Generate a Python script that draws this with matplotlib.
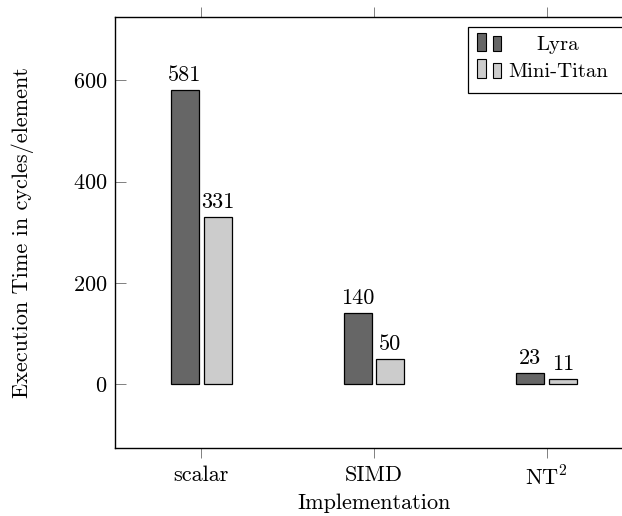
import matplotlib.pyplot as plt
from matplotlib.patches import Rectangle
import numpy as np

plt.rcParams['font.family'] = 'serif'
plt.rcParams['font.serif'] = ['cmr10']
plt.rcParams['mathtext.fontset'] = 'cm'
plt.rcParams['axes.formatter.use_mathtext'] = True
plt.rcParams['font.size'] = 16

# dados
implementacoes = ['scalar', 'SIMD', r'NT$^2$']
lyra = [581, 140, 23]
mini_titan = [331, 50, 11]
series = ['Lyra', 'Mini-Titan']
cores = ['#666666', '#cccccc']

W, H = 622, 516
fig = plt.figure(figsize=(W / 100, H / 100), dpi=100)
# eixo vai alem da borda direita da figura
ax_l, ax_t, ax_w, ax_h = 115, 17, 518, 431
ax = fig.add_axes([ax_l / W, 1 - (ax_t + ax_h) / H, ax_w / W, ax_h / H])

x = np.arange(len(implementacoes))
largura = 0.162
b1 = ax.bar(x - 0.095, lyra, largura, color=cores[0], edgecolor='black', lw=0.9)
b2 = ax.bar(x + 0.095, mini_titan, largura, color=cores[1], edgecolor='black', lw=0.9)
ax.bar_label(b1, padding=3.5)
ax.bar_label(b2, padding=3.5)

ax.set_xlim(-0.5, 2.5)
ax.set_ylim(-126, 725)
ax.set_xticks(x)
ax.set_xticklabels(implementacoes)
ax.set_yticks([0, 200, 400, 600])
ax.tick_params(axis='x', direction='out', top=True, length=7.5, color='0.5', width=0.7, pad=5)
ax.tick_params(axis='y', direction='in', right=True, length=8, color='0.5', width=0.7, pad=5.5)
ax.set_xlabel('Implementation', labelpad=3)
ax.set_ylabel('Execution Time in cycles/element', labelpad=28)

for s in ax.spines.values():
    s.set_linewidth(1.0)


# legenda desenhada a mao (pixels -> fracao do eixo)
def px(xp, yp):
    return (xp - ax_l) / ax_w, (ax_t + ax_h - yp) / ax_h


x0, y0 = px(468, 93)
x1, y1 = px(660, 27)
ax.add_patch(Rectangle((x0, y0), x1 - x0, y1 - y0, transform=ax.transAxes,
                       facecolor='white', edgecolor='black', lw=0.9, clip_on=False, zorder=5))
linhas = [(33, 36, 51, 45), (59, 63, 78, 72)]
for nome, cor, (ta, tb, base, yt) in zip(series, cores, linhas):
    for xa, xb, topo in [(477, 486, ta), (493, 501, tb)]:
        ra, rb = px(xa, base)
        rc, rd = px(xb, topo)
        ax.add_patch(Rectangle((ra, rb), rc - ra, rd - rb, transform=ax.transAxes,
                               facecolor=cor, edgecolor='black', lw=0.8, clip_on=False, zorder=6))
    tx, ty = px(558, yt)
    ax.text(tx, ty, nome, transform=ax.transAxes, ha='center', va='center',
            fontsize=15, zorder=7)

fig.savefig('out.png', dpi=100)
